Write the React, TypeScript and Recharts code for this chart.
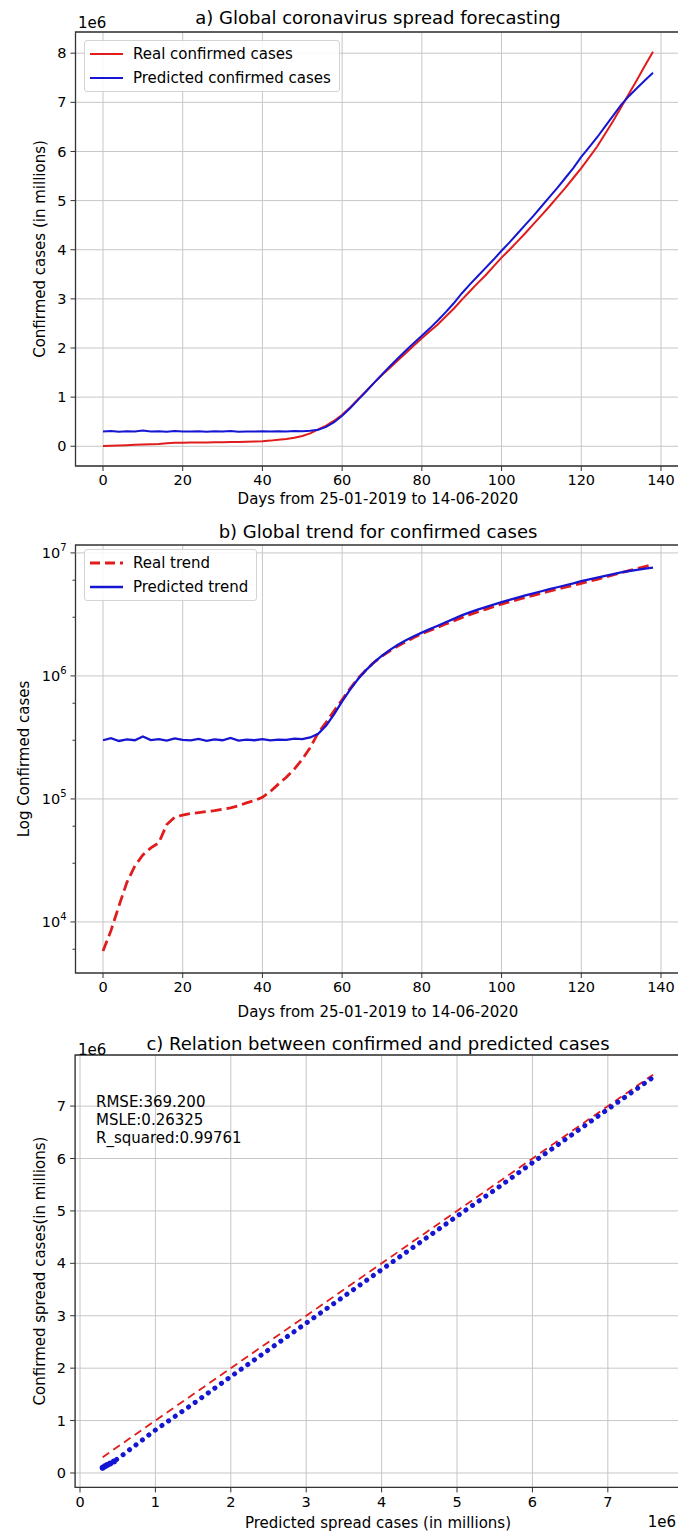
import React from "react"
import {
  LineChart,
  ComposedChart,
  Line,
  Scatter,
  XAxis,
  YAxis,
  CartesianGrid,
  ReferenceArea,
  ReferenceLine,
} from "recharts"

// days since start (every second day)
const days = [
  0, 2, 4, 6, 8, 10, 12, 14, 16, 18,
  20, 22, 24, 26, 28, 30, 32, 34, 36, 38,
  40, 42, 44, 46, 48, 50, 52, 54, 56, 58,
  60, 62, 64, 66, 68, 70, 72, 74, 76, 78,
  80, 82, 84, 86, 88, 90, 92, 94, 96, 98,
  100, 102, 104, 106, 108, 110, 112, 114, 116, 118,
  120, 122, 124, 126, 128, 130, 132, 134, 136, 138,
]

const realCases = [
  5800, 8500, 13500, 21000, 28500, 35000, 40000, 44000, 62000, 71000,
  74000, 76000, 77500, 79000, 80500, 82500, 84500, 88000, 93000, 97000,
  103000, 115000, 132000, 150000, 175000, 210000, 262000, 345000, 420000, 520000,
  640000, 790000, 960000, 1120000, 1290000, 1450000, 1600000, 1750000, 1900000, 2050000,
  2200000, 2340000, 2480000, 2640000, 2800000, 2980000, 3150000, 3320000, 3480000, 3660000,
  3840000, 4000000, 4170000, 4340000, 4520000, 4700000, 4880000, 5070000, 5260000, 5460000,
  5660000, 5880000, 6100000, 6360000, 6620000, 6900000, 7180000, 7460000, 7750000, 8030000,
]

const predictedCases = [
  300000, 312000, 296000, 305000, 300000, 322000, 301000, 306000, 298000, 311000,
  302000, 299000, 308000, 297000, 305000, 300000, 313000, 298000, 303000, 300000,
  306000, 299000, 304000, 302000, 309000, 306000, 316000, 338000, 395000, 490000,
  620000, 775000, 945000, 1115000, 1290000, 1460000, 1630000, 1790000, 1950000, 2100000,
  2250000, 2400000, 2560000, 2730000, 2910000, 3110000, 3290000, 3460000, 3630000, 3800000,
  3980000, 4150000, 4330000, 4510000, 4690000, 4880000, 5070000, 5260000, 5460000, 5660000,
  5890000, 6090000, 6290000, 6510000, 6730000, 6950000, 7130000, 7290000, 7450000, 7600000,
]

const dayTicks = [0, 20, 40, 60, 80, 100, 120, 140]
const millionTicksA = [0, 1e6, 2e6, 3e6, 4e6, 5e6, 6e6, 7e6, 8e6]
const logMajorTicks = [1e4, 1e5, 1e6, 1e7]
const logMinorSteps = [2, 3, 4, 5, 6, 7, 8, 9]
const logDecades = [1e3, 1e4, 1e5, 1e6]

// panel c: predicted (x) vs confirmed (y)
const predictedSpread = [
  300000, 330000, 360000, 400000, 450000, 600000, 1000000, 1500000, 2000000, 2500000,
  3000000, 3500000, 4000000, 4500000, 5000000, 5500000, 6000000, 6500000, 7000000, 7600000,
]
const confirmedSpread = [
  100000, 130000, 150000, 180000, 220000, 380000, 820000, 1320000, 1840000, 2350000,
  2860000, 3370000, 3880000, 4390000, 4900000, 5400000, 5920000, 6430000, 6940000, 7550000,
]
const identityEnds = [300000, 7600000]
const millionTicksCx = [0, 1e6, 2e6, 3e6, 4e6, 5e6, 6e6, 7e6]
const millionTicksCy = [0, 1e6, 2e6, 3e6, 4e6, 5e6, 6e6, 7e6]
const metricsText = ["RMSE:369.200", "MSLE:0.26325", "R_squared:0.99761"]

const series = days.map((day, i) => ({ day, real: realCases[i], predicted: predictedCases[i] }))
const spreadRows = predictedSpread.map((x, i) => ({ x, y: confirmedSpread[i] }))
const blobRows = spreadRows.slice(0, 5)
const identityRows = identityEnds.map((v) => ({ x: v, y: v }))
const logMinorTicks = logDecades
  .flatMap((d) => logMinorSteps.map((s) => s * d))
  .filter((v) => v >= 3846 && v <= 1.16e7)
const logTicks = [...logMajorTicks, ...logMinorTicks].sort((a, b) => a - b)

const RED = "#e01c1c"
const BLUE = "#1616d2"
const GRID = "#c6c6c6"
const FRAME = "#333"
const FONT = "DejaVu Sans"
const TICK_FS = 14.5
const LABEL_FS = 15
const TITLE_FS = 18
const tickStyle = { fontSize: TICK_FS, fill: "#000", fontFamily: FONT }
const millions = (v: number) => `${Math.round(v / 1e6)}`

const Txt = ({ x, y, size = LABEL_FS, anchor = "middle", rotate = false, children }: any) => {
  const tx = anchor === "middle" ? "-50%" : anchor === "end" ? "-100%" : "0"
  return (
    <div
      style={{
        position: "absolute",
        left: x,
        top: y,
        fontSize: size,
        lineHeight: 1,
        whiteSpace: "nowrap",
        color: "#000",
        transform: rotate ? "translate(-50%,-50%) rotate(-90deg)" : `translate(${tx},-50%)`,
      }}
    >
      {children}
    </div>
  )
}

const LegendBox = ({ left, top, items }: any) => (
  <div
    style={{
      position: "absolute",
      left,
      top,
      padding: "1px 8px 1px 5px",
      border: "1px solid #d4d4d4",
      borderRadius: 3,
      background: "rgba(255,255,255,0.85)",
    }}
  >
    {items.map((it: any) => (
      <div key={it.label} style={{ display: "flex", alignItems: "center", height: 24, fontSize: LABEL_FS }}>
        <svg width={43} height={10}>
          <line x1={0} x2={33} y1={5} y2={5} stroke={it.color} strokeWidth={it.width} strokeDasharray={it.dash} />
        </svg>
        <span>{it.label}</span>
      </div>
    ))}
  </div>
)

const LogTick = (props: any) => {
  const { x, y, payload } = props
  const major = logMajorTicks.includes(payload.value)
  const axisX = x + 9
  return (
    <g>
      <line x1={axisX - (major ? 5 : 3)} x2={axisX} y1={y} y2={y} stroke={FRAME} strokeWidth={1} />
      {major && (
        <text x={x} y={y} dy={5} textAnchor="end" fontSize={TICK_FS} fill="#000" fontFamily={FONT}>
          10
          <tspan dy={-7} fontSize={10}>
            {Math.round(Math.log10(payload.value))}
          </tspan>
        </text>
      )}
    </g>
  )
}

const DAY_DOMAIN: [number, number] = [-6.9, 144.9]
const A_DOMAIN: [number, number] = [-401500, 8431500]
const B_DOMAIN: [number, number] = [3846, 1.16e7]
const CX_DOMAIN: [number, number] = [-65000, 7965000]
const CY_DOMAIN: [number, number] = [-275000, 7975000]

export default function App() {
  return (
    <div
      style={{
        position: "absolute",
        left: 0,
        top: 0,
        width: 678,
        height: 1536,
        overflow: "hidden",
        background: "#fff",
        fontFamily: FONT,
      }}
    >
      {/* a) */}
      <div style={{ position: "absolute", left: 0, top: 0 }}>
        <LineChart width={700} height={520} data={series} margin={{ top: 32, right: 19.5, bottom: 0, left: 0 }}>
          <CartesianGrid stroke={GRID} strokeWidth={1} />
          <XAxis
            type="number"
            dataKey="day"
            domain={DAY_DOMAIN}
            ticks={dayTicks}
            allowDataOverflow
            height={54}
            axisLine={false}
            tickSize={5}
            tickMargin={4}
            tickLine={{ stroke: FRAME }}
            tick={tickStyle}
          />
          <YAxis
            type="number"
            domain={A_DOMAIN}
            ticks={millionTicksA}
            allowDataOverflow
            width={75.5}
            axisLine={false}
            tickSize={5}
            tickMargin={4}
            tickLine={{ stroke: FRAME }}
            tick={tickStyle}
            tickFormatter={millions}
          />
          <Line dataKey="real" stroke={RED} strokeWidth={2} dot={false} isAnimationActive={false} />
          <Line dataKey="predicted" stroke={BLUE} strokeWidth={2} dot={false} isAnimationActive={false} />
          <ReferenceArea
            x1={DAY_DOMAIN[0]}
            x2={DAY_DOMAIN[1]}
            y1={A_DOMAIN[0]}
            y2={A_DOMAIN[1]}
            fill="none"
            stroke={FRAME}
            strokeWidth={1.3}
            ifOverflow="visible"
          />
        </LineChart>
      </div>

      {/* b) */}
      <div style={{ position: "absolute", left: 0, top: 520 }}>
        <LineChart width={700} height={520} data={series} margin={{ top: 25, right: 19.5, bottom: 0, left: 0 }}>
          <CartesianGrid stroke={GRID} strokeWidth={1} horizontal={false} />
          {logMajorTicks.map((v) => (
            <ReferenceLine key={v} y={v} stroke={GRID} strokeWidth={1} />
          ))}
          <XAxis
            type="number"
            dataKey="day"
            domain={DAY_DOMAIN}
            ticks={dayTicks}
            allowDataOverflow
            height={67}
            axisLine={false}
            tickSize={5}
            tickMargin={4}
            tickLine={{ stroke: FRAME }}
            tick={tickStyle}
          />
          <YAxis
            type="number"
            scale="log"
            domain={B_DOMAIN}
            ticks={logTicks}
            allowDataOverflow
            width={75.5}
            axisLine={false}
            tickSize={5}
            tickMargin={4}
            tickLine={false}
            tick={<LogTick />}
          />
          <Line
            dataKey="real"
            stroke={RED}
            strokeWidth={2.8}
            strokeDasharray="11 5"
            dot={false}
            isAnimationActive={false}
          />
          <Line dataKey="predicted" stroke={BLUE} strokeWidth={2.3} dot={false} isAnimationActive={false} />
          <ReferenceArea
            x1={DAY_DOMAIN[0]}
            x2={DAY_DOMAIN[1]}
            y1={B_DOMAIN[0]}
            y2={B_DOMAIN[1]}
            fill="none"
            stroke={FRAME}
            strokeWidth={1.3}
            ifOverflow="visible"
          />
        </LineChart>
      </div>

      {/* c) */}
      <div style={{ position: "absolute", left: 0, top: 1040 }}>
        <ComposedChart width={700} height={496} margin={{ top: 15, right: 19.4, bottom: 0, left: 0 }}>
          <CartesianGrid stroke={GRID} strokeWidth={1} />
          <XAxis
            type="number"
            dataKey="x"
            domain={CX_DOMAIN}
            ticks={millionTicksCx}
            allowDataOverflow
            height={48.6}
            axisLine={false}
            tickSize={5}
            tickMargin={4}
            tickLine={{ stroke: FRAME }}
            tick={tickStyle}
            tickFormatter={millions}
          />
          <YAxis
            type="number"
            dataKey="y"
            domain={CY_DOMAIN}
            ticks={millionTicksCy}
            allowDataOverflow
            width={75.1}
            axisLine={false}
            tickSize={5}
            tickMargin={4}
            tickLine={{ stroke: FRAME }}
            tick={tickStyle}
            tickFormatter={millions}
          />
          <Line
            data={identityRows}
            dataKey="y"
            stroke={RED}
            strokeWidth={1.8}
            strokeDasharray="8 5"
            dot={false}
            isAnimationActive={false}
          />
          <Line
            data={spreadRows}
            dataKey="y"
            stroke={BLUE}
            strokeWidth={5}
            strokeDasharray="0.1 8"
            strokeLinecap="round"
            dot={false}
            isAnimationActive={false}
          />
          <Scatter
            data={blobRows}
            dataKey="y"
            fill={BLUE}
            isAnimationActive={false}
            shape={(p: any) => <circle cx={p.cx} cy={p.cy} r={3} fill={BLUE} />}
          />
          <ReferenceArea
            x1={CX_DOMAIN[0]}
            x2={CX_DOMAIN[1]}
            y1={CY_DOMAIN[0]}
            y2={CY_DOMAIN[1]}
            fill="none"
            stroke={FRAME}
            strokeWidth={1.3}
            ifOverflow="visible"
          />
        </ComposedChart>
      </div>

      {/* text */}
      <Txt x={378} y={18} size={TITLE_FS}>a) Global coronavirus spread forecasting</Txt>
      <Txt x={78} y={23} anchor="start">1e6</Txt>
      <Txt x={378} y={499}>Days from 25-01-2019 to 14-06-2020</Txt>
      <Txt x={40} y={249} rotate>Confirmed cases (in millions)</Txt>
      <LegendBox
        left={84}
        top={40}
        items={[
          { label: "Real confirmed cases", color: RED, width: 2 },
          { label: "Predicted confirmed cases", color: BLUE, width: 2 },
        ]}
      />

      <Txt x={378} y={532} size={TITLE_FS}>b) Global trend for confirmed cases</Txt>
      <Txt x={378} y={1012}>Days from 25-01-2019 to 14-06-2020</Txt>
      <Txt x={24} y={759} rotate>Log Confirmed cases</Txt>
      <LegendBox
        left={84}
        top={549}
        items={[
          { label: "Real trend", color: RED, width: 2.8, dash: "10 5" },
          { label: "Predicted trend", color: BLUE, width: 2.3 },
        ]}
      />

      <Txt x={378} y={1044} size={TITLE_FS}>c) Relation between confirmed and predicted cases</Txt>
      <Txt x={78} y={1050} anchor="start">1e6</Txt>
      <Txt x={378} y={1523}>Predicted spread cases (in millions)</Txt>
      <Txt x={676} y={1522} anchor="end">1e6</Txt>
      <Txt x={40} y={1271} rotate>Confirmed spread cases(in millions)</Txt>
      {metricsText.map((t, i) => (
        <Txt key={t} x={96} y={1102 + i * 18} anchor="start">
          {t}
        </Txt>
      ))}
    </div>
  )
}
